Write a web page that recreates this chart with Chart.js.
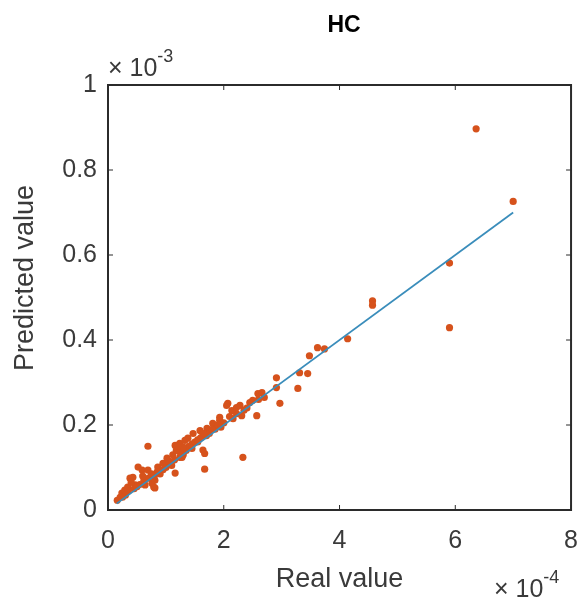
<!DOCTYPE html>
<html>
<head>
<meta charset="utf-8">
<script src="https://cdn.jsdelivr.net/npm/chart.js@4.4.1/dist/chart.umd.min.js"></script>
<style>
  html, body { margin: 0; padding: 0; background: #fff; }
</style>
</head>
<body>
<canvas id="hcChart" width="586" height="605"></canvas>
<script>
// Real value (x10^-4) vs predicted value (x10^-3)
const realValue = [
  0.16, 0.21, 0.24, 0.29, 0.34, 0.47, 0.38, 0.43, 0.52, 0.59,
  0.69, 0.64, 0.76, 0.81, 0.81, 0.86, 0.98, 1.07, 1.16, 1.24,
  0.69, 1.16, 1.24, 1.38, 0.95, 1.02, 1.28, 1.21, 1.33, 1.47,
  1.64, 1.59, 1.71, 1.81, 1.93, 2.22, 2.07, 2.28, 1.64, 1.67,
  1.67, 2.33, 0.79, 1.93, 2.05, 2.16, 2.14, 2.22, 2.31, 2.57,
  2.50, 2.45, 2.59, 2.97, 2.91, 3.28, 2.91, 3.31, 3.45, 3.48,
  3.62, 3.74, 4.14, 4.57, 4.57, 5.90, 5.90, 6.36, 7.00, 2.66,
  0.55, 0.62, 0.70, 0.90, 0.95, 1.00, 1.10, 1.15, 1.30, 1.35,
  1.40, 1.45, 1.50, 1.55, 1.60, 1.70, 1.75, 1.85, 1.90, 2.00,
  2.10, 1.25, 1.30, 0.35, 0.45, 0.50, 0.40, 0.30, 0.25, 0.80,
  0.85, 1.05, 1.12, 1.18, 1.20, 1.45, 1.55, 1.65, 1.80, 2.40,
  2.60, 2.70, 1.95, 2.35, 0.60, 0.75
];
const predictedValue = [
  0.023, 0.030, 0.040, 0.047, 0.054, 0.059, 0.075, 0.077, 0.101, 0.094,
  0.094, 0.059, 0.063, 0.070, 0.052, 0.101, 0.110, 0.112, 0.087, 0.124,
  0.150, 0.152, 0.157, 0.169, 0.110, 0.122, 0.124, 0.141, 0.164, 0.180,
  0.176, 0.187, 0.192, 0.204, 0.218, 0.227, 0.251, 0.246, 0.141, 0.096,
  0.133, 0.124, 0.054, 0.211, 0.246, 0.215, 0.234, 0.241, 0.222, 0.222,
  0.258, 0.253, 0.274, 0.251, 0.288, 0.286, 0.311, 0.323, 0.321, 0.363,
  0.382, 0.379, 0.403, 0.492, 0.482, 0.581, 0.429, 0.897, 0.726, 0.276,
  0.060, 0.070, 0.075, 0.085, 0.095, 0.100, 0.105, 0.118, 0.130, 0.140,
  0.150, 0.155, 0.160, 0.165, 0.170, 0.175, 0.180, 0.190, 0.200, 0.205,
  0.220, 0.135, 0.148, 0.045, 0.050, 0.055, 0.065, 0.035, 0.030, 0.080,
  0.090, 0.115, 0.130, 0.140, 0.150, 0.145, 0.160, 0.180, 0.190, 0.240,
  0.260, 0.265, 0.195, 0.235, 0.080, 0.085
];
// fitted line end points
const fitLineX = [0.15, 7.0];
const fitLineY = [0.015, 0.70];
const xTicks = [0, 2, 4, 6, 8];
const yTicks = [0, 0.2, 0.4, 0.6, 0.8, 1];

const axisColor = '#2b2b2b';
const textColor = '#3a3a3a';
const fontFamily = '"Liberation Sans", Arial, sans-serif';

// MATLAB style box, inward ticks, title, y label and exponent labels
const matlabBox = {
  id: 'matlabBox',
  afterDraw(chart) {
    const ctx = chart.ctx;
    const a = chart.chartArea;
    const xs = chart.scales.x, ys = chart.scales.y;
    ctx.save();
    ctx.strokeStyle = axisColor;
    ctx.lineWidth = 2;
    ctx.strokeRect(a.left, a.top, a.right - a.left, a.bottom - a.top);
    ctx.lineWidth = 1;
    ctx.beginPath();
    xTicks.forEach(t => {
      const px = xs.getPixelForValue(t);
      ctx.moveTo(px, a.bottom); ctx.lineTo(px, a.bottom - 5);
      ctx.moveTo(px, a.top); ctx.lineTo(px, a.top + 5);
    });
    yTicks.forEach(t => {
      const py = ys.getPixelForValue(t);
      ctx.moveTo(a.left, py); ctx.lineTo(a.left + 5, py);
      ctx.moveTo(a.right, py); ctx.lineTo(a.right - 5, py);
    });
    ctx.stroke();

    // title
    ctx.fillStyle = '#000';
    ctx.font = 'bold 23px ' + fontFamily;
    ctx.textAlign = 'center';
    ctx.textBaseline = 'middle';
    ctx.fillText('HC', 344, 26);

    // y axis label
    ctx.fillStyle = textColor;
    ctx.font = '27px ' + fontFamily;
    ctx.save();
    ctx.translate(26, 278);
    ctx.rotate(-Math.PI / 2);
    ctx.fillText('Predicted value', 0, 0);
    ctx.restore();

    // exponent labels
    ctx.textAlign = 'left';
    ctx.textBaseline = 'alphabetic';
    ctx.font = '25px ' + fontFamily;
    ctx.fillText('\u00d7 10', 108, 76);
    let w = ctx.measureText('\u00d7 10').width;
    ctx.font = '18px ' + fontFamily;
    ctx.fillText('-3', 108 + w, 62);

    ctx.font = '25px ' + fontFamily;
    ctx.fillText('\u00d7 10', 494, 597);
    w = ctx.measureText('\u00d7 10').width;
    ctx.font = '18px ' + fontFamily;
    ctx.fillText('-4', 494 + w, 583);
    ctx.restore();
  }
};

const ctx = document.getElementById('hcChart').getContext('2d');
const hcChart = new Chart(ctx, {
  type: 'scatter',
  data: {
    datasets: [
      {
        type: 'line',
        label: 'Fit',
        data: fitLineX.map((x, i) => ({ x: x, y: fitLineY[i] })),
        borderColor: '#3a8dbb',
        borderWidth: 1.8,
        pointRadius: 0,
        fill: false
      },
      {
        label: 'HC',
        data: realValue.map((x, i) => ({ x: x, y: predictedValue[i] })),
        backgroundColor: '#d6521c',
        borderWidth: 0,
        pointRadius: 3.6
      }
    ]
  },
  options: {
    responsive: false,
    animation: false,
    layout: { padding: { top: 85, right: 13, left: 0, bottom: 0 } },
    plugins: {
      legend: { display: false },
      tooltip: { enabled: false }
    },
    scales: {
      x: {
        type: 'linear',
        min: 0,
        max: 8,
        afterBuildTicks: s => { s.ticks = xTicks.map(v => ({ value: v })); },
        afterFit: s => { s.height = 95; },
        grid: { display: false },
        border: { display: false },
        ticks: {
          color: textColor,
          padding: 8,
          font: { family: fontFamily, size: 25 },
          callback: v => String(v)
        },
        title: {
          display: true,
          text: 'Real value',
          color: textColor,
          padding: { top: 0, bottom: 9 },
          font: { family: fontFamily, size: 27 }
        }
      },
      y: {
        type: 'linear',
        min: 0,
        max: 1,
        afterBuildTicks: s => { s.ticks = yTicks.map(v => ({ value: v })); },
        afterFit: s => { s.width = 108; },
        grid: { display: false },
        border: { display: false },
        ticks: {
          color: textColor,
          padding: 3,
          font: { family: fontFamily, size: 25 },
          callback: v => String(v)
        }
      }
    }
  },
  plugins: [matlabBox]
});
</script>
</body>
</html>
